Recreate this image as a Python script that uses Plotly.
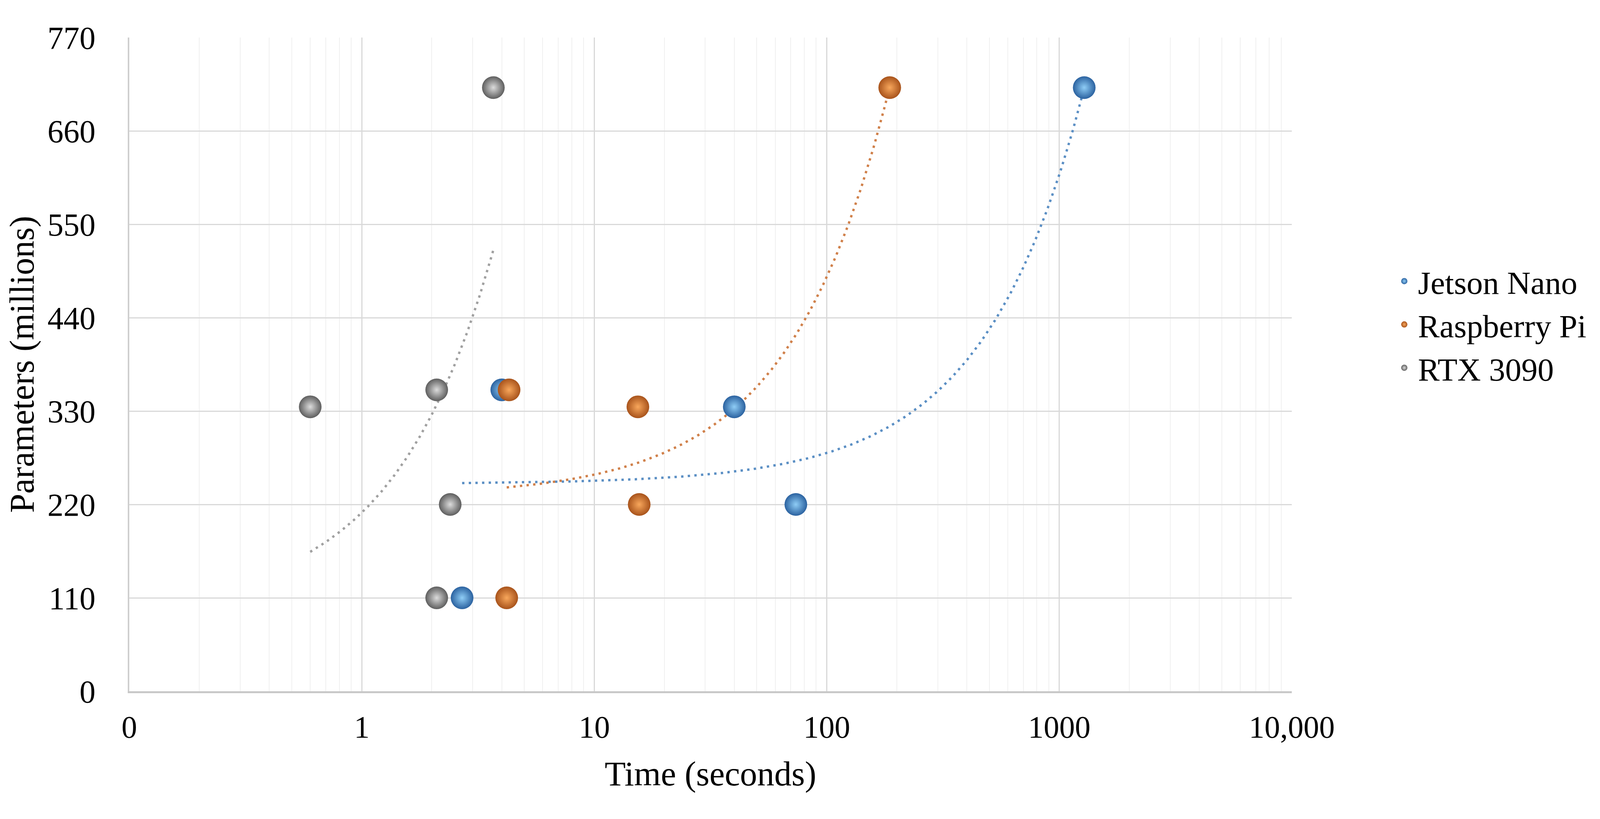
import numpy as np
import plotly.graph_objects as go

# ---- data ----
series_names = ["Jetson Nano", "Raspberry Pi", "RTX 3090"]
jetson_time = [2.7, 4.0, 40.0, 73.6, 1280.0]
jetson_params = [110, 355, 335, 220, 711]
rpi_time = [4.2, 4.3, 15.4, 15.6, 186.5]
rpi_params = [110, 355, 335, 220, 711]
rtx_time = [2.1, 2.1, 0.6, 2.4, 3.68]
rtx_params = [110, 355, 335, 220, 711]

x_tick_vals = [0.1, 1, 10, 100, 1000, 10000]
x_tick_text = ["0", "1", "10", "100", "1000", "10,000"]
y_tick_vals = [0, 110, 220, 330, 440, 550, 660, 770]

# ---- styles ----
edge_colors = ["#2b62a0", "#a8531b", "#5e5e5e"]
center_colors = ["#8fcdf6", "#f8a75c", "#dcdcdc"]
trend_colors = ["#5b8fc4", "#d0804a", "#a0a0a0"]
FONT = "Liberation Serif"

data = [(jetson_time, jetson_params), (rpi_time, rpi_params), (rtx_time, rtx_params)]

fig = go.Figure()

# linear least-squares trendlines (as Excel draws them), spanning each series' x range
for (t, p), col in zip(data, trend_colors):
    slope, intercept = np.polyfit(np.array(t), np.array(p), 1)
    xs = np.logspace(np.log10(min(t)), np.log10(max(t)), 300)
    fig.add_trace(go.Scatter(
        x=xs, y=slope * xs + intercept, mode="lines",
        line=dict(color=col, width=6, dash="6px,11px"),
        showlegend=False, hoverinfo="skip"))

for name, (t, p), ec, cc in zip(series_names, data, edge_colors, center_colors):
    fig.add_trace(go.Scatter(
        x=t, y=p, mode="markers", name=name,
        marker=dict(size=58, color=ec,
                    gradient=dict(type="radial", color=cc),
                    line=dict(width=0))))

fig.update_layout(
    autosize=True,
    margin=dict(l=323, r=781, t=88, b=319),
    paper_bgcolor="white", plot_bgcolor="white",
    font=dict(family=FONT, size=80, color="black"),
    showlegend=True,
    legend=dict(x=1.085, xanchor="left", y=0.561, yanchor="middle",
                font=dict(family=FONT, size=83, color="black"),
                itemsizing="trace", itemwidth=60,
                bgcolor="rgba(0,0,0,0)"),
)

fig.update_xaxes(
    type="log", range=[-1, 4],
    tickmode="array", tickvals=x_tick_vals, ticktext=x_tick_text,
    tickfont=dict(family=FONT, size=80),
    ticks="outside", ticklen=18, tickcolor="rgba(0,0,0,0)",
    showgrid=True, gridcolor="#d9d9d9", gridwidth=3,
    minor=dict(dtick="D1", showgrid=True, gridcolor="#f0f0f0", gridwidth=2, ticks=""),
    showline=True, linecolor="#c8c8c8", linewidth=5,
    zeroline=False,
    title=dict(text="Time (seconds)", font=dict(family=FONT, size=88), standoff=46),
)

fig.update_yaxes(
    range=[0, 770],
    tickmode="array", tickvals=y_tick_vals,
    tickfont=dict(family=FONT, size=82),
    ticks="outside", ticklen=66, tickcolor="rgba(0,0,0,0)",
    showgrid=True, gridcolor="#d9d9d9", gridwidth=3,
    showline=True, linecolor="#cfcfcf", linewidth=4,
    zeroline=False,
    title=dict(text="Parameters (millions)", font=dict(family=FONT, size=88), standoff=26),
)

fig.write_html("out.html")
